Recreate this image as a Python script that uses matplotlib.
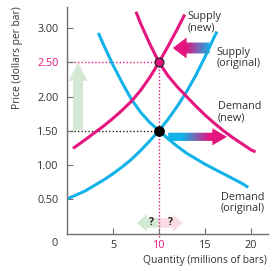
import numpy as np
import matplotlib
matplotlib.use("Agg")
import matplotlib.pyplot as plt
from matplotlib.patches import Polygon
from matplotlib.colors import LinearSegmentedColormap

# Curves (quantity in millions, price in dollars)
supply_orig_q = [0, 1, 2, 3, 4, 5, 6, 7, 8, 9, 10, 11, 12, 13, 14, 15, 16, 16.3]
supply_orig_p = [0.50, 0.56, 0.62, 0.70, 0.78, 0.87, 0.97, 1.08, 1.21, 1.35, 1.50,
                 1.67, 1.86, 2.07, 2.31, 2.58, 2.87, 2.95]
supply_new_q = [0.65, 2, 3, 4, 5, 6, 7, 8, 9, 10, 11, 12, 12.8]
supply_new_p = [1.24, 1.37, 1.47, 1.57, 1.68, 1.80, 1.93, 2.09, 2.28, 2.50, 2.74, 2.99, 3.20]
demand_orig_q = [3.4, 4, 5, 6, 7, 8, 9, 10, 11, 12, 13, 14, 15, 16, 17, 18, 19, 19.7]
demand_orig_p = [2.93, 2.75, 2.46, 2.20, 1.96, 1.77, 1.62, 1.50, 1.38, 1.27, 1.17, 1.09,
                 1.01, 0.94, 0.87, 0.80, 0.73, 0.67]
demand_new_q = [7.5, 8, 9, 10, 11, 12, 13, 14, 15, 16, 17, 18, 19, 20, 20.5]
demand_new_p = [3.24, 3.07, 2.77, 2.50, 2.30, 2.14, 2.00, 1.86, 1.73, 1.61, 1.50, 1.40,
                1.31, 1.22, 1.19]

eq_orig = (10, 1.50)
eq_new = (10, 2.50)

yticks = [0.5, 1.0, 1.5, 2.0, 2.5, 3.0]
ytick_labels = ["0.50", "1.00", "1.50", "2.00", "2.50", "3.00"]
xticks = [5, 10, 15, 20]
xtick_labels = ["5", "10", "15", "20"]

PINK = "#e4157f"
BLUE = "#13b2e8"
GREEN_L = "#d3e9d3"
PINK_L = "#fbdce3"
TXT = "#333333"
AX = "#707070"

plt.rcParams["font.family"] = ["Open Sans", "DejaVu Sans"]

fig = plt.figure(figsize=(2.72, 2.71), dpi=100)
ax = fig.add_axes([67 / 272, 1 - 234 / 271, 201 / 272, 227 / 271])


def harrow(x0, x1, y, sh, hh, hl):
    # horizontal arrow, tip at x1
    d = 1 if x1 > x0 else -1
    xb = x1 - d * hl
    return [(x0, y - sh), (xb, y - sh), (xb, y - hh), (x1, y),
            (xb, y + hh), (xb, y + sh), (x0, y + sh)]


def grad_arrow(pts, cmap):
    poly = Polygon(pts, closed=True, facecolor="none", edgecolor="none")
    ax.add_patch(poly)
    xs = [p[0] for p in pts]
    ys = [p[1] for p in pts]
    im = ax.imshow(np.linspace(0, 1, 256).reshape(1, -1), cmap=cmap,
                   extent=[min(xs), max(xs), min(ys), max(ys)],
                   aspect="auto", zorder=3, interpolation="bilinear")
    im.set_clip_path(poly)


# light green price arrow
gx, g0, g1 = 1.2, 1.51, 2.49
green_up = [(gx - 0.54, g0), (gx - 0.54, g1 - 0.26), (gx - 1.03, g1 - 0.26), (gx, g1),
            (gx + 1.03, g1 - 0.26), (gx + 0.54, g1 - 0.26), (gx + 0.54, g0)]
ax.add_patch(Polygon(green_up, closed=True, facecolor=GREEN_L, edgecolor="none", zorder=1))

# quantity ? arrows
ax.add_patch(Polygon(harrow(10, 7.6, 0.15, 0.07, 0.13, 1.1), closed=True,
                     facecolor=GREEN_L, edgecolor="none", zorder=1))
ax.add_patch(Polygon(harrow(10, 12.6, 0.15, 0.07, 0.13, 1.1), closed=True,
                     facecolor=PINK_L, edgecolor="none", zorder=1))
ax.text(9.13, 0.15, "?", ha="center", va="center", fontsize=7.5, fontweight="bold", color="#222222", zorder=4)
ax.text(11.3, 0.15, "?", ha="center", va="center", fontsize=7.5, fontweight="bold", color="#222222", zorder=4)

# dotted guide lines
ax.plot([0, eq_new[0]], [eq_new[1], eq_new[1]], ls=(0, (1, 1.5)), color=PINK, lw=1, zorder=1)
ax.plot([eq_new[0], eq_new[0]], [eq_new[1], -0.06], ls=(0, (1, 1.5)), color=PINK, lw=1, zorder=1, clip_on=False)
ax.plot([0, eq_orig[0]], [eq_orig[1], eq_orig[1]], ls=(0, (1, 1.5)), color="#222222", lw=1, zorder=1)

# curves
ax.plot(supply_orig_q, supply_orig_p, color=BLUE, lw=2.2, solid_capstyle="butt", zorder=2)
ax.plot(demand_orig_q, demand_orig_p, color=BLUE, lw=2.2, solid_capstyle="butt", zorder=2)
ax.plot(supply_new_q, supply_new_p, color=PINK, lw=2.2, solid_capstyle="butt", zorder=2)
ax.plot(demand_new_q, demand_new_p, color=PINK, lw=2.2, solid_capstyle="butt", zorder=2)

# shift arrows with gradients
cm_left = LinearSegmentedColormap.from_list("pb", [(0, PINK), (0.35, PINK), (1, BLUE)])
cm_right = LinearSegmentedColormap.from_list("bp", [(0, BLUE), (0.25, BLUE), (0.7, PINK), (1, PINK)])
grad_arrow(harrow(15.5, 11.5, 2.71, 0.08, 0.153, 1.5), cm_left)
grad_arrow(harrow(11.0, 17.4, 1.41, 0.06, 0.125, 1.6), cm_right)

# equilibrium points
ax.scatter([eq_orig[0]], [eq_orig[1]], s=45, color="black", zorder=5)
ax.scatter([eq_new[0]], [eq_new[1]], s=40, color=PINK, edgecolor="#222222", linewidth=0.9, zorder=5)

# curve labels
fs = 7.8
ax.text(13.15, 3.09, "Supply\n(new)", fontsize=fs, color=TXT, va="center", linespacing=1.0)
ax.text(16.3, 2.57, "Supply\n(original)", fontsize=fs, color=TXT, va="center", linespacing=1.0)
ax.text(16.4, 1.77, "Demand\n(new)", fontsize=fs, color=TXT, va="center", linespacing=1.0)
ax.text(16.7, 0.44, "Demand\n(original)", fontsize=fs, color=TXT, va="center", linespacing=1.0)

# axes
ax.set_xlim(0, 21.85)
ax.set_ylim(-0.012, 3.31)
for s in ["top", "right"]:
    ax.spines[s].set_visible(False)
for s in ["left", "bottom"]:
    ax.spines[s].set_color(AX)
    ax.spines[s].set_linewidth(1)
ax.set_yticks(yticks)
ax.set_yticklabels(ytick_labels)
ax.set_xticks(xticks)
ax.set_xticklabels(xtick_labels)
ax.tick_params(direction="in", length=4, color=AX, labelsize=fs, labelcolor=TXT)
ax.tick_params(axis="y", pad=6)
ax.tick_params(axis="x", pad=4)
ax.get_yticklabels()[4].set_color(PINK)
ax.get_xticklabels()[1].set_color(PINK)
ax.annotate("0", (0, 0), xytext=(-8.6, -7.5), textcoords="offset points",
            ha="center", va="center", fontsize=fs, color=TXT)

ax.set_ylabel("Price (dollars per bar)", fontsize=7.4, color=TXT)
ax.yaxis.set_label_coords(-0.219, 0.775)
ax.text(0.995, -0.115, "Quantity (millions of bars)", transform=ax.transAxes,
        ha="right", va="center", fontsize=7.4, color=TXT)

fig.savefig("out.png", dpi=100)
